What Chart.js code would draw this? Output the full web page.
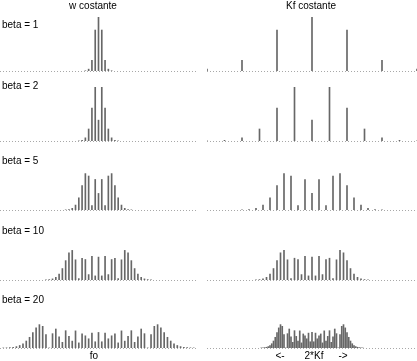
<!DOCTYPE html>
<html>
<head>
<meta charset="utf-8">
<script src="https://cdn.jsdelivr.net/npm/chart.js@4"></script>
<style>
  body { margin: 0; background: #fff; }
  #wrap { position: relative; width: 417px; height: 361px; overflow: hidden; font-family: "Liberation Sans", Arial, sans-serif; font-size: 10px; color: #000; }
  .lbl { position: absolute; white-space: nowrap; line-height: 12px; }
  .c { transform: translateX(-50%); }
  canvas { position: absolute; }
</style>
</head>
<body>
<div id="wrap"></div>
<script>
// modulation index of each row
const betas = [1, 2, 5, 10, 20];
const rowLabels = ['beta = 1', 'beta = 2', 'beta = 5', 'beta = 10', 'beta = 20'];

// line heights for n = 0, 1, 2, ... (spectrum is symmetric around fo)
const amp1 = [0.765, 0.440, 0.115, 0.020, 0.0025];
const amp2 = [0.224, 0.577, 0.353, 0.129, 0.034, 0.007, 0.0012];
const amp5 = [0.178, 0.328, 0.047, 0.365, 0.391, 0.261, 0.131, 0.053, 0.018, 0.0055, 0.0015];
const amp10 = [0.246, 0.044, 0.255, 0.058, 0.220, 0.234, 0.015, 0.217, 0.318, 0.292, 0.208,
               0.123, 0.063, 0.029, 0.012, 0.0045, 0.0016];
const amp20 = [0.167, 0.067, 0.160, 0.099, 0.131, 0.151, 0.055, 0.184, 0.074, 0.125, 0.186,
               0.061, 0.119, 0.204, 0.154, 0.001, 0.145, 0.233, 0.251, 0.216, 0.165,
               0.115, 0.075, 0.046, 0.027, 0.015, 0.008, 0.004, 0.002, 0.001];
const amps = [amp1, amp2, amp5, amp10, amp20];

const baselines = [71, 141, 210, 280, 348];
const labelY = [19, 80, 155, 225, 294];

const wrap = document.getElementById('wrap');

function addText(txt, x, y, centered) {
  const d = document.createElement('div');
  d.className = 'lbl' + (centered ? ' c' : '');
  d.style.left = x + 'px';
  d.style.top = y + 'px';
  d.textContent = txt;
  wrap.appendChild(d);
}

const dotted = {
  id: 'dotted',
  beforeDatasetsDraw(chart) {
    const {ctx, chartArea} = chart;
    const y = chart.scales.y.getPixelForValue(0) + 0.5;
    ctx.save();
    ctx.strokeStyle = '#a8a8a8';
    ctx.lineWidth = 1;
    ctx.setLineDash([1, 2]);
    ctx.beginPath();
    ctx.moveTo(chartArea.left, y);
    ctx.lineTo(chartArea.right, y);
    ctx.stroke();
    ctx.restore();
  }
};

// left: w fixed -> x in units of w; right: Kf fixed -> x in units of Kf (n / beta)
function makePanel(row, right) {
  const beta = betas[row];
  const a = amps[row];
  const pts = [];
  for (let n = -(a.length - 1); n < a.length; n++) {
    const x = right ? n / beta : n;
    pts.push({x: x, y: a[Math.abs(n)]});
  }
  const cv = document.createElement('canvas');
  const w = right ? 212 : 197;
  const h = 60;
  cv.width = w; cv.height = h;
  cv.style.width = w + 'px'; cv.style.height = h + 'px';
  cv.style.left = (right ? 206 : 0) + 'px';
  cv.style.top = (baselines[row] - 57) + 'px';
  wrap.appendChild(cv);

  new Chart(cv, {
    type: 'bar',
    data: {
      datasets: [{
        data: pts,
        backgroundColor: '#676767',
        barThickness: 1,
        borderWidth: 0
      }]
    },
    options: {
      responsive: false,
      animation: false,
      layout: { padding: { top: 3, bottom: 3, left: right ? 1 : 0, right: right ? 1 : 0 } },
      plugins: { legend: { display: false }, tooltip: { enabled: false } },
      scales: {
        x: { type: 'linear', min: right ? -3 : -30, max: right ? 3 : 30, offset: false, display: false },
        y: { min: 0, max: 0.58, display: false }
      }
    },
    plugins: [dotted]
  });
}

for (let r = 0; r < betas.length; r++) {
  makePanel(r, false);
  makePanel(r, true);
  addText(rowLabels[r], 2, labelY[r], false);
}

addText('w costante', 93, 0, true);
addText('Kf costante', 311, 0, true);
addText('fo', 94, 350, true);
addText('<-', 280, 350, true);
addText('2*Kf', 314, 350, true);
addText('->', 343, 350, true);
</script>
</body>
</html>
